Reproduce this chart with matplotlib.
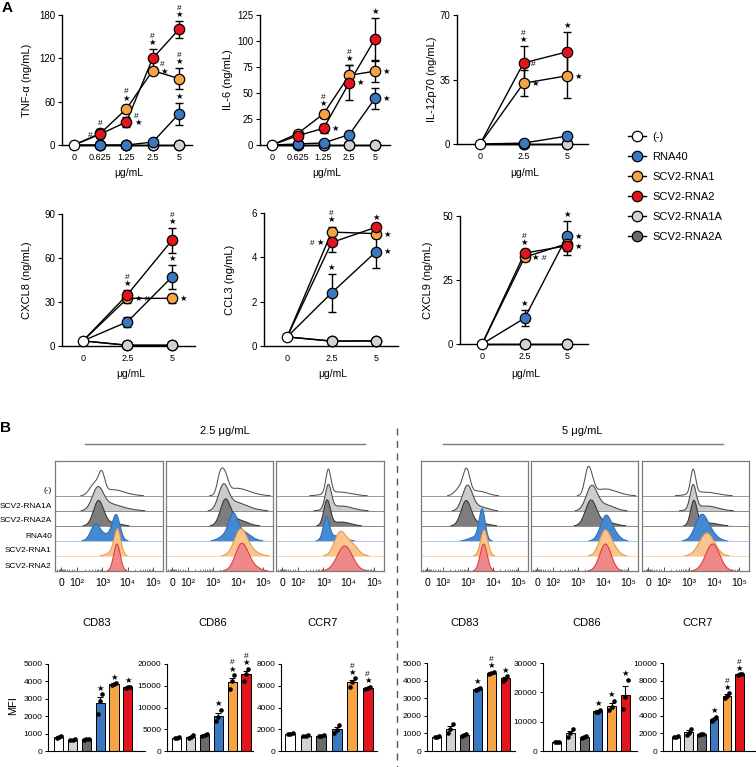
import numpy as np
import matplotlib
matplotlib.use("Agg")
import matplotlib.pyplot as plt
from matplotlib.lines import Line2D

plt.rcParams['font.family'] = ['Liberation Sans', 'DejaVu Sans']

# ---------------------------------------------------------------- DATA
groups = ['neg', 'rna40', 'rna1', 'rna2', 'rna1a', 'rna2a']
group_labels = ['(-)', 'RNA40', 'SCV2-RNA1', 'SCV2-RNA2', 'SCV2-RNA1A', 'SCV2-RNA2A']

doses_5 = ['0', '0.625', '1.25', '2.5', '5']
doses_3 = ['0', '2.5', '5']

# TNF-alpha (ng/mL)
tnf_ctrl = 0
tnf_rna40 = [0, 0, 4, 43];      tnf_rna40_err = [0, 0, 2, 15]
tnf_rna1 = [16, 50, 103, 92];   tnf_rna1_err = [6, 6, 5, 14]
tnf_rna2 = [15, 32, 120, 160];  tnf_rna2_err = [5, 7, 13, 12]
tnf_rna1a = [0, 0, 0, 0];       tnf_rna2a = [0, 0, 0, 0]
# IL-6
il6_ctrl = 0
il6_rna40 = [1, 2, 10, 45];     il6_rna40_err = [0.5, 1, 3, 10]
il6_rna1 = [11, 30, 67, 71];    il6_rna1_err = [2, 4, 10, 10]
il6_rna2 = [9, 16, 60, 102];    il6_rna2_err = [2, 4, 17, 20]
il6_rna1a = [0, 0, 0, 0];       il6_rna2a = [0, 0, 0, 0]
# IL-12p70
il12_ctrl = 0
il12_rna40 = [0.5, 4.3];        il12_rna40_err = [0.3, 1]
il12_rna1 = [33, 37];           il12_rna1_err = [7, 12]
il12_rna2 = [44, 50];           il12_rna2_err = [9, 11]
il12_rna1a = [0, 0];            il12_rna2a = [0, 0]
# CXCL8
cxcl8_ctrl = 3.5
cxcl8_rna40 = [16.5, 47];       cxcl8_rna40_err = [3.5, 8]
cxcl8_rna1 = [32.5, 32.5];      cxcl8_rna1_err = [3, 3]
cxcl8_rna2 = [35, 72];          cxcl8_rna2_err = [3, 8.5]
cxcl8_rna1a = [0.5, 0.5];       cxcl8_rna2a = [0.5, 0.5]
# CCL3
ccl3_ctrl = 0.41
ccl3_rna40 = [2.4, 4.26];       ccl3_rna40_err = [0.85, 0.72]
ccl3_rna1 = [5.14, 5.07];       ccl3_rna1_err = [0.25, 0.2]
ccl3_rna2 = [4.67, 5.36];       ccl3_rna2_err = [0.45, 0.15]
ccl3_rna1a = [0.22, 0.23];      ccl3_rna2a = [0.22, 0.23]
# CXCL9
cxcl9_ctrl = 0
cxcl9_rna40 = [10.1, 42.2];     cxcl9_rna40_err = [3.2, 5.8]
cxcl9_rna1 = [33.9, 39.2];      cxcl9_rna1_err = [1.5, 2]
cxcl9_rna2 = [35.5, 38.4];      cxcl9_rna2_err = [1.5, 3.5]
cxcl9_rna1a = [0, 0];           cxcl9_rna2a = [0, 0]

# significance marks: (series, dose index, text, placement)
tnf_marks = [('rna1', 1, '#', 'above'), ('rna2', 1, '#', 'left'),
             ('rna1', 2, '#\n★', 'above'), ('rna2', 2, '#\n★', 'right'),
             ('rna2', 3, '#\n★', 'above'), ('rna1', 3, '#\n★', 'right'),
             ('rna2', 4, '#\n★', 'above'), ('rna1', 4, '#\n★', 'above'),
             ('rna40', 4, '★', 'above')]
il6_marks = [('rna1', 2, '#\n★', 'above'), ('rna2', 2, '★', 'right'),
             ('rna1', 3, '#\n★', 'above'), ('rna2', 3, '★', 'right'),
             ('rna2', 4, '★', 'above'), ('rna1', 4, '★', 'right'),
             ('rna40', 4, '★', 'right')]
il12_marks = [('rna2', 1, '#\n★', 'above'), ('rna2', 1, '#', 'right'),
              ('rna1', 1, '★', 'right'), ('rna2', 2, '★', 'above'),
              ('rna1', 2, '★', 'right')]
cxcl8_marks = [('rna2', 1, '#\n★', 'above'), ('rna1', 1, '★ #', 'right'),
               ('rna2', 2, '#\n★', 'above'), ('rna40', 2, '★', 'above'),
               ('rna1', 2, '★', 'right')]
ccl3_marks = [('rna1', 1, '#\n★', 'above'), ('rna2', 1, '# ★', 'left'),
              ('rna40', 1, '★', 'above'), ('rna2', 2, '★', 'above'),
              ('rna1', 2, '★', 'right'), ('rna40', 2, '★', 'right')]
cxcl9_marks = [('rna2', 1, '#\n★', 'above'), ('rna1', 1, '★ #', 'right'),
               ('rna40', 1, '★', 'above'), ('rna40', 2, '★', 'above'),
               ('rna40', 2, '★', 'right'), ('rna2', 2, '★', 'right')]

# Flow histograms: rows top->bottom, components (log10 centre, spread, height)
hist_rows = ['neg', 'rna1a', 'rna2a', 'rna40', 'rna1', 'rna2']
hist_row_labels = ['(-)', 'SCV2-RNA1A', 'SCV2-RNA2A', 'RNA40', 'SCV2-RNA1', 'SCV2-RNA2']
hist_cd83_25 = {'neg': [(2.98, 0.12, 18), (2.7, 0.2, 12), (3.4, 0.35, 6), (4.0, 0.35, 1.5)],
                'rna1a': [(2.82, 0.22, 22), (3.3, 0.35, 6), (3.9, 0.4, 2)],
                'rna2a': [(2.85, 0.2, 25), (3.4, 0.3, 3)],
                'rna40': [(2.72, 0.18, 15), (3.55, 0.15, 24), (3.15, 0.3, 6)],
                'rna1': [(3.6, 0.13, 26), (3.35, 0.2, 3)],
                'rna2': [(3.58, 0.13, 27)]}
hist_cd86_25 = {'neg': [(3.3, 0.12, 20), (3.5, 0.12, 15), (3.9, 0.4, 7), (4.5, 0.4, 2)],
                'rna1a': [(3.42, 0.2, 24), (3.9, 0.35, 8), (4.5, 0.35, 2)],
                'rna2a': [(3.5, 0.2, 25), (4.0, 0.35, 6)],
                'rna40': [(3.8, 0.18, 24), (4.2, 0.3, 9), (3.4, 0.2, 4)],
                'rna1': [(4.1, 0.25, 25), (4.5, 0.3, 5)],
                'rna2': [(4.15, 0.25, 27), (4.6, 0.25, 4)]}
hist_ccr7_25 = {'neg': [(3.2, 0.1, 24), (3.6, 0.5, 4)],
                'rna1a': [(3.2, 0.12, 24), (3.7, 0.45, 5)],
                'rna2a': [(3.15, 0.13, 25), (3.7, 0.35, 4)],
                'rna40': [(3.12, 0.12, 22), (3.5, 0.3, 5)],
                'rna1': [(3.65, 0.22, 22), (4.1, 0.25, 12)],
                'rna2': [(3.85, 0.3, 25)]}
hist_cd83_5 = {'neg': [(2.95, 0.13, 22), (2.7, 0.2, 8), (3.4, 0.35, 5)],
               'rna1a': [(2.98, 0.2, 25), (3.5, 0.3, 4)],
               'rna2a': [(2.93, 0.2, 25), (3.5, 0.3, 3)],
               'rna40': [(3.57, 0.12, 30), (3.3, 0.25, 4)],
               'rna1': [(3.65, 0.14, 26)],
               'rna2': [(3.63, 0.14, 27)]}
hist_cd86_5 = {'neg': [(3.38, 0.12, 22), (3.55, 0.12, 12), (4.0, 0.4, 6), (4.5, 0.4, 2)],
               'rna1a': [(3.55, 0.22, 24), (4.1, 0.35, 6)],
               'rna2a': [(3.52, 0.22, 25), (4.1, 0.35, 4)],
               'rna40': [(4.12, 0.22, 25), (4.5, 0.2, 5)],
               'rna1': [(4.08, 0.22, 25), (4.45, 0.2, 6)],
               'rna2': [(4.1, 0.23, 27)]}
hist_ccr7_5 = {'neg': [(3.17, 0.1, 24), (3.6, 0.5, 4)],
               'rna1a': [(3.17, 0.12, 24), (3.7, 0.45, 5)],
               'rna2a': [(3.2, 0.13, 25), (3.8, 0.35, 3)],
               'rna40': [(3.5, 0.25, 25), (3.9, 0.25, 6)],
               'rna1': [(3.72, 0.3, 23)],
               'rna2': [(3.95, 0.28, 27)]}
hist_ticks = ['0', '10²', '10³', '10⁴', '10⁵']

# MFI bars (order: (-), RNA1A, RNA2A, RNA40, RNA1, RNA2)
bar_groups = ['neg', 'rna1a', 'rna2a', 'rna40', 'rna1', 'rna2']
cd83_25_mean = [800, 650, 680, 2750, 3850, 3650]
cd83_25_sem = [40, 40, 40, 330, 50, 40]
cd83_25_dots = [[760, 800, 840], [620, 650, 690], [650, 690, 700], [2120, 2860, 3270], [3800, 3850, 3900], [3620, 3650, 3680]]
cd86_25_mean = [3100, 3300, 3600, 8100, 15900, 17600]
cd86_25_sem = [100, 250, 150, 750, 950, 800]
cd86_25_dots = [[3000, 3100, 3200], [3000, 3200, 3700], [3400, 3600, 3800], [6900, 7900, 9500], [14200, 16200, 17500], [16200, 17700, 18900]]
ccr7_25_mean = [1600, 1400, 1400, 2000, 6300, 5800]
ccr7_25_sem = [50, 50, 50, 200, 220, 70]
ccr7_25_dots = [[1550, 1600, 1650], [1350, 1400, 1450], [1350, 1400, 1450], [1650, 1950, 2350], [5900, 6300, 6700], [5700, 5800, 5900]]
cd83_5_mean = [800, 1250, 900, 3520, 4430, 4120]
cd83_5_sem = [30, 160, 40, 40, 50, 70]
cd83_5_dots = [[770, 800, 830], [1000, 1230, 1530], [850, 900, 950], [3450, 3500, 3600], [4350, 4430, 4500], [4000, 4100, 4250]]
cd86_5_mean = [3100, 6100, 4800, 13600, 15400, 19000]
cd86_5_sem = [100, 800, 250, 300, 900, 3000]
cd86_5_dots = [[3000, 3100, 3200], [4800, 6000, 7450], [4500, 4800, 5100], [13300, 13400, 14100], [14000, 15100, 17100], [14200, 18500, 24300]]
ccr7_5_mean = [1600, 2150, 1900, 3650, 6300, 8700]
ccr7_5_sem = [40, 200, 60, 150, 200, 50]
ccr7_5_dots = [[1550, 1600, 1650], [1850, 2100, 2500], [1850, 1900, 1950], [3450, 3600, 3900], [6000, 6300, 6600], [8650, 8700, 8750]]
cd83_25_sig = ['', '', '', '★', '★', '★']
cd86_25_sig = ['', '', '', '★', '#\n★', '#\n★']
ccr7_25_sig = ['', '', '', '', '#\n★', '#\n★']
cd83_5_sig = ['', '', '', '★', '#\n★', '★']
cd86_5_sig = ['', '', '', '★', '★', '★']
ccr7_5_sig = ['', '', '', '★', '#\n★', '#\n★']

# ---------------------------------------------------------------- STYLE
COL = {'neg': '#ffffff', 'rna40': '#3b78c2', 'rna1': '#f5a343', 'rna2': '#e3141c',
       'rna1a': '#d2d2d2', 'rna2a': '#6a6a6a'}
HSTYLE = {'neg': ('#ffffff', '#505050', '#9a9a9a'),
          'rna1a': ('#cccccc', '#474747', '#8a8a8a'),
          'rna2a': ('#7d7d7d', '#353535', '#8a8a8a'),
          'rna40': ('#4489d2', '#2d6db5', '#a9c9ee'),
          'rna1': ('#f9c48e', '#ec9645', '#fbd6b2'),
          'rna2': ('#ef8888', '#dd3a3a', '#f0a0a0')}

W, H = 756, 767
fig = plt.figure(figsize=(W / 100, H / 100), dpi=100)


def add_ax(l, t, r, b):
    return fig.add_axes([l / W, 1 - b / H, (r - l) / W, (b - t) / H])


def fx(x):
    return x / W


def fy(y):
    return 1 - y / H


# ---------------------------------------------------------------- PANEL A
def line_chart(box, xlim, doses, ctrl, series, marks, ylim, yticks, ylabel, ylabel_x, xlabel_y):
    l, t, r, b = box
    ax = add_ax(l, t, r, b)
    xs = np.arange(len(doses))
    order = ['rna2a', 'rna1a', 'rna40', 'rna1', 'rna2']
    for k, g in enumerate(order):
        vals, err = series[g]
        ax.plot(xs, [ctrl] + list(vals), color='black', lw=1, zorder=2, clip_on=False)
        if err is not None:
            ax.errorbar(xs[1:], vals, yerr=err, fmt='none', ecolor='black', elinewidth=1,
                        capsize=3, capthick=1, zorder=2.5, clip_on=False)
        ax.plot(xs[1:], vals, 'o', mfc=COL[g], mec='black', ms=7.5, mew=0.9,
                zorder=3 + k, clip_on=False)
    ax.plot([xs[0]], [ctrl], 'o', mfc='white', mec='black', ms=7.5, mew=0.9, zorder=10, clip_on=False)
    for g, i, txt, where in marks:
        vals, err = series[g]
        v = vals[i - 1]
        e = err[i - 1] if err is not None else 0
        if where == 'above':
            ax.annotate(txt, (xs[i], v + e), xytext=(0, 1.5), textcoords='offset points',
                        ha='center', va='bottom', fontsize=6, linespacing=1.0, zorder=12)
        elif where == 'right':
            ax.annotate(txt, (xs[i], v), xytext=(5.5, -3.5), textcoords='offset points',
                        ha='left', va='bottom', fontsize=6, linespacing=1.0, zorder=12)
        else:
            ax.annotate(txt, (xs[i], v), xytext=(-5.5, -3.5), textcoords='offset points',
                        ha='right', va='bottom', fontsize=6, linespacing=1.0, zorder=12)
    ax.set_xlim(*xlim)
    ax.set_ylim(*ylim)
    ax.set_yticks(yticks)
    ax.set_xticks(xs)
    ax.set_xticklabels(doses)
    for s in ['top', 'right']:
        ax.spines[s].set_visible(False)
    for s in ['left', 'bottom']:
        ax.spines[s].set_linewidth(1)
    ax.tick_params(axis='y', direction='out', length=3, width=0.8, labelsize=7, pad=2)
    ax.tick_params(axis='x', length=0, labelsize=6.5, pad=6)
    ax.patch.set_alpha(0)
    fig.text(fx(ylabel_x), fy((t + b) / 2), ylabel, rotation=90, ha='center', va='center', fontsize=8)
    fig.text(fx((l + r) / 2 + 2), fy(xlabel_y), 'μg/mL', ha='center', va='center', fontsize=7.5)
    return ax


line_chart((62, 15, 192, 145), (-0.457, 4.5), doses_5, tnf_ctrl,
           {'rna40': (tnf_rna40, tnf_rna40_err), 'rna1': (tnf_rna1, tnf_rna1_err),
            'rna2': (tnf_rna2, tnf_rna2_err), 'rna1a': (tnf_rna1a, None), 'rna2a': (tnf_rna2a, None)},
           tnf_marks, (0, 180), [0, 60, 120, 180], 'TNF-α (ng/mL)', 27, 173)
line_chart((260, 15, 390, 145), (-0.466, 4.58), doses_5, il6_ctrl,
           {'rna40': (il6_rna40, il6_rna40_err), 'rna1': (il6_rna1, il6_rna1_err),
            'rna2': (il6_rna2, il6_rna2_err), 'rna1a': (il6_rna1a, None), 'rna2a': (il6_rna2a, None)},
           il6_marks, (0, 125), [0, 25, 50, 75, 100, 125], 'IL-6 (ng/mL)', 228, 173)
line_chart((457, 15, 588, 144), (-0.53, 2.48), doses_3, il12_ctrl,
           {'rna40': (il12_rna40, il12_rna40_err), 'rna1': (il12_rna1, il12_rna1_err),
            'rna2': (il12_rna2, il12_rna2_err), 'rna1a': (il12_rna1a, None), 'rna2a': (il12_rna2a, None)},
           il12_marks, (0, 70), [0, 35, 70], 'IL-12p70 (ng/mL)', 432, 173)
line_chart((62, 214, 195, 346), (-0.47, 2.52), doses_3, cxcl8_ctrl,
           {'rna40': (cxcl8_rna40, cxcl8_rna40_err), 'rna1': (cxcl8_rna1, cxcl8_rna1_err),
            'rna2': (cxcl8_rna2, cxcl8_rna2_err), 'rna1a': (cxcl8_rna1a, None), 'rna2a': (cxcl8_rna2a, None)},
           cxcl8_marks, (0, 90), [0, 30, 60, 90], 'CXCL8 (ng/mL)', 27, 374)
line_chart((264, 213, 398, 346), (-0.52, 2.49), doses_3, ccl3_ctrl,
           {'rna40': (ccl3_rna40, ccl3_rna40_err), 'rna1': (ccl3_rna1, ccl3_rna1_err),
            'rna2': (ccl3_rna2, ccl3_rna2_err), 'rna1a': (ccl3_rna1a, None), 'rna2a': (ccl3_rna2a, None)},
           ccl3_marks, (0, 6), [0, 2, 4, 6], 'CCL3 (ng/mL)', 230, 374)
line_chart((460, 216, 588, 344), (-0.52, 2.49), doses_3, cxcl9_ctrl,
           {'rna40': (cxcl9_rna40, cxcl9_rna40_err), 'rna1': (cxcl9_rna1, cxcl9_rna1_err),
            'rna2': (cxcl9_rna2, cxcl9_rna2_err), 'rna1a': (cxcl9_rna1a, None), 'rna2a': (cxcl9_rna2a, None)},
           cxcl9_marks, (0, 50), [0, 25, 50], 'CXCL9 (ng/mL)', 428, 374)

# legend
handles = [Line2D([0], [0], color='black', lw=1, marker='o', mfc=COL[g], mec='black', ms=7.5, mew=0.9)
           for g in groups]
fig.legend(handles, group_labels, loc='upper left', bbox_to_anchor=(fx(628), fy(132)),
           frameon=False, fontsize=8, labelspacing=0.9, handlelength=1.6, handletextpad=0.6,
           borderpad=0, borderaxespad=0)

fig.text(fx(2), fy(8), 'A', fontsize=11, fontweight='bold', ha='left', va='center')
fig.text(fx(0), fy(428), 'B', fontsize=11, fontweight='bold', ha='left', va='center')

# ---------------------------------------------------------------- PANEL B histograms
u = np.linspace(1.13, 5.4, 500)
baselines = [75, 60, 45, 30, 15, 0]


def hist_box(box, comps, show_labels):
    ax = add_ax(*box)
    for i, row in enumerate(hist_rows):
        face, edge, basec = HSTYLE[row]
        curve = np.zeros_like(u)
        for c, s, h in comps[row]:
            curve += h * np.exp(-0.5 * ((u - c) / s) ** 2)
        yb = baselines[i]
        z = 2 + 3 * i
        ax.fill_between(u, yb, yb + curve, facecolor=face, edgecolor='none', lw=0, zorder=z)
        ax.plot([u[0], u[-1]], [yb, yb], color=basec, lw=0.7, zorder=z + 0.5)
        ax.plot(u, np.ma.masked_where(curve < 0.3, yb + curve), color=edge, lw=0.75, zorder=z + 1)
        if show_labels:
            ax.text(-0.03, yb + 5, hist_row_labels[i], transform=ax.get_yaxis_transform(),
                    ha='right', va='center', fontsize=6)
    ax.set_xlim(1.13, 5.4)
    ax.set_ylim(0, 110)
    ax.set_yticks([])
    ax.set_xticks([1.37, 2, 3, 4, 5])
    ax.set_xticklabels(hist_ticks)
    minor = [1.22, 1.27, 1.31, 1.34, 1.4, 1.43, 1.47, 1.52, 1.6, 1.7, 1.8, 1.9]
    for d in (2, 3, 4):
        minor += list(np.log10(np.arange(2, 10)) + d)
    ax.set_xticks(minor, minor=True)
    ax.tick_params(axis='x', which='major', direction='in', length=3, width=0.7, color='#555555',
                   labelsize=7.5, pad=5)
    ax.tick_params(axis='x', which='minor', direction='in', length=1.6, width=0.5, color='#555555')
    for s in ax.spines.values():
        s.set_color('#7a7a7a')
        s.set_linewidth(0.9)
        s.set_zorder(30)
    return ax


hist_box((55, 461, 163, 571), hist_cd83_25, True)
hist_box((166, 461, 273, 571), hist_cd86_25, False)
hist_box((276, 461, 384, 571), hist_ccr7_25, False)
hist_box((421, 461, 528, 571), hist_cd83_5, False)
hist_box((531, 461, 638, 571), hist_cd86_5, False)
hist_box((642, 461, 749, 571), hist_ccr7_5, False)

fig.text(fx(225), fy(431), '2.5 μg/mL', ha='center', va='center', fontsize=8)
fig.text(fx(582), fy(431), '5 μg/mL', ha='center', va='center', fontsize=8)
fig.add_artist(Line2D([fx(85), fx(365)], [fy(444), fy(444)], color='#7a7a7a', lw=1))
fig.add_artist(Line2D([fx(443), fx(723)], [fy(444), fy(444)], color='#7a7a7a', lw=1))
fig.add_artist(Line2D([fx(397), fx(397)], [fy(428), fy(767)], color='#555555', lw=1,
                      dashes=(5, 4)))

# ---------------------------------------------------------------- PANEL B bars
dot_offsets = [-0.16, 0.0, 0.16]


def bar_chart(box, xlim, mean, sem, dots, sig, ymax, yticks, title, title_x, mfi=False):
    ax = add_ax(*box)
    x = np.arange(len(mean))
    ax.bar(x, mean, width=0.66, color=[COL[g] for g in bar_groups], edgecolor='black',
           lw=0.7, zorder=2)
    ax.errorbar(x, mean, yerr=[np.zeros(len(sem)), sem], fmt='none', ecolor='black',
                elinewidth=0.8, capsize=2, capthick=0.8, zorder=3)
    for i in range(len(mean)):
        ax.scatter(x[i] + np.array(dot_offsets), sorted(dots[i]), s=11, c='black', zorder=4,
                   clip_on=False, linewidths=0)
        if sig[i]:
            top = max(mean[i] + sem[i], max(dots[i]))
            ax.annotate(sig[i], (x[i], top), xytext=(0, 1), textcoords='offset points',
                        ha='center', va='bottom', fontsize=6, linespacing=1.0)
    ax.set_xlim(*xlim)
    ax.set_ylim(0, ymax)
    ax.set_yticks(yticks)
    ax.set_xticks([])
    for s in ['top', 'right']:
        ax.spines[s].set_visible(False)
    for s in ['left', 'bottom']:
        ax.spines[s].set_linewidth(0.8)
    ax.tick_params(axis='y', direction='out', length=2.5, width=0.7, labelsize=6, pad=1.5)
    ax.patch.set_alpha(0)
    fig.text(fx(title_x), fy(623), title, ha='center', va='center', fontsize=8)
    if mfi:
        fig.text(fx(13), fy(706), 'MFI', rotation=90, ha='center', va='center', fontsize=8)


bar_chart((48, 664, 145, 751), (-0.78, 6.25), cd83_25_mean, cd83_25_sem, cd83_25_dots, cd83_25_sig,
          5000, range(0, 5001, 1000), 'CD83', 97, mfi=True)
bar_chart((167, 664, 253, 751), (-0.72, 5.51), cd86_25_mean, cd86_25_sem, cd86_25_dots, cd86_25_sig,
          20000, range(0, 20001, 5000), 'CD86', 213)
bar_chart((281, 664, 377, 751), (-0.6, 5.6), ccr7_25_mean, ccr7_25_sem, ccr7_25_dots, ccr7_25_sig,
          8000, range(0, 8001, 2000), 'CCR7', 323)
bar_chart((427, 663, 515, 751), (-0.71, 5.73), cd83_5_mean, cd83_5_sem, cd83_5_dots, cd83_5_sig,
          5000, range(0, 5001, 1000), 'CD83', 465)
bar_chart((543, 663, 637, 751), (-1.0, 5.85), cd86_5_mean, cd86_5_sem, cd86_5_dots, cd86_5_sig,
          30000, range(0, 30001, 10000), 'CD86', 587)
bar_chart((663, 663, 755, 751), (-1.0, 6.2), ccr7_5_mean, ccr7_5_sem, ccr7_5_dots, ccr7_5_sig,
          10000, range(0, 10001, 2000), 'CCR7', 698)

fig.savefig('out.png', dpi=100)
